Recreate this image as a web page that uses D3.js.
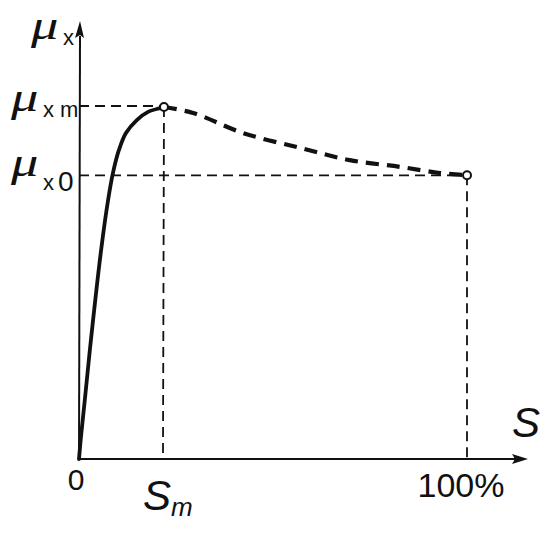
<!DOCTYPE html>
<html><head><meta charset="utf-8">
<script src="https://cdn.jsdelivr.net/npm/d3@7"></script>
<style>body{margin:0;background:#fff}svg{display:block}</style>
</head><body><svg id="c" width="550" height="536"></svg>
<script>
// data
const sSolid = [0, 0.5, 1.5, 2.8, 5.7, 7.5, 8.8, 10.3, 12.1, 14.9, 17.8, 20.9, 21.9];
const muSolid = [0, 0.0625, 0.168, 0.31, 0.594, 0.736, 0.815, 0.878, 0.926, 0.963, 0.986, 0.997, 1.0];
const sDashed = [21.9, 29.4, 42.3, 57.0, 69.8, 82.7, 93.0, 100];
const muDashed = [1.0, 0.983, 0.926, 0.884, 0.849, 0.830, 0.8125, 0.806];
const sM = 21.9, muXm = 1.0, muX0 = 0.806;
const xTickLabels = ["0", "100%"];

const svg = d3.select("#c");
const x = d3.scaleLinear().domain([0, 100]).range([79, 467]);
const y = d3.scaleLinear().domain([0, 1]).range([459, 107]);
const ink = "#111";

// axes
svg.append("line").attr("x1", x(0)).attr("x2", 516).attr("y1", y(0)).attr("y2", y(0))
  .attr("stroke", ink).attr("stroke-width", 2);
svg.append("path").attr("d", `M528,${y(0)} L512,${y(0)-5} L515,${y(0)} L512,${y(0)+5} Z`).attr("fill", ink);
svg.append("line").attr("x1", x(0)).attr("x2", x(0)+1).attr("y1", y(0)).attr("y2", 36)
  .attr("stroke", ink).attr("stroke-width", 2);
svg.append("path").attr("d", `M${x(0)+1},21 L${x(0)-4},38 L${x(0)+1},35 L${x(0)+5},38 Z`).attr("fill", ink);

// guide dashed lines
const g = svg.append("g").attr("stroke", ink).attr("stroke-width", 1.8).attr("stroke-dasharray", "10,6").attr("fill", "none");
g.append("line").attr("x1", x(0)).attr("x2", x(sM)).attr("y1", y(muXm) - 1).attr("y2", y(muXm) - 1);
g.append("line").attr("x1", x(0)).attr("x2", x(100)).attr("y1", y(muX0)).attr("y2", y(muX0));
g.append("line").attr("x1", x(sM)).attr("x2", x(sM) - 1).attr("y1", y(muXm)).attr("y2", y(0));
g.append("line").attr("x1", x(100)).attr("x2", x(100)).attr("y1", y(muX0)).attr("y2", y(0));

// curves
const line = d3.line().x(d => x(d[0])).y(d => y(d[1])).curve(d3.curveCatmullRom.alpha(0.5));
svg.append("path").attr("d", line(d3.zip(sSolid, muSolid)))
  .attr("fill", "none").attr("stroke", ink).attr("stroke-width", 3.8).attr("stroke-linecap", "round");
svg.append("path").attr("d", line(d3.zip(sDashed, muDashed)))
  .attr("fill", "none").attr("stroke", ink).attr("stroke-width", 4.2).attr("stroke-dasharray", "13,8");

// circles
[[sM, muXm], [100, muX0]].forEach(p => {
  svg.append("circle").attr("cx", x(p[0])).attr("cy", y(p[1])).attr("r", 4)
    .attr("fill", "#fff").attr("stroke", ink).attr("stroke-width", 2);
});

// tick labels
const sans = "Liberation Sans, Arial, sans-serif";
svg.append("text").attr("x", 76).attr("y", 490).attr("text-anchor", "middle")
  .attr("font-family", sans).attr("font-size", 30).attr("fill", ink).text(xTickLabels[0]);
svg.append("text").attr("x", x(100) - 6).attr("y", 497).attr("text-anchor", "middle")
  .attr("font-family", sans).attr("font-size", 34).attr("fill", ink).text(xTickLabels[1]);

// S labels
svg.append("text").attr("x", 512).attr("y", 437).attr("font-family", sans).attr("font-style", "italic")
  .attr("font-size", 42).attr("fill", ink).text("S");
const sm = svg.append("text").attr("x", 143).attr("y", 510).attr("font-family", sans).attr("font-style", "italic")
  .attr("font-size", 42).attr("fill", ink);
sm.append("tspan").text("S");
sm.append("tspan").attr("font-size", 26).attr("dy", 6).text("m");

// mu labels
function mu(xp, yp) {
  svg.append("text").attr("transform", `translate(${xp},${yp}) scale(1.3,1)`)
    .attr("font-family", "Liberation Serif, serif").attr("font-style", "italic")
    .attr("font-size", 42).attr("fill", ink).text("μ");
}
function sub(xp, yp, s, size) {
  svg.append("text").attr("x", xp).attr("y", yp).attr("font-family", sans)
    .attr("font-size", size).attr("fill", ink).text(s);
}
mu(31, 39); sub(63, 45, "x", 22);
mu(11, 111); sub(43, 117, "x", 22); sub(60, 117, "m", 22);
mu(11, 176); sub(43, 190, "x", 22); sub(58, 191, "0", 28);
</script></body></html>
